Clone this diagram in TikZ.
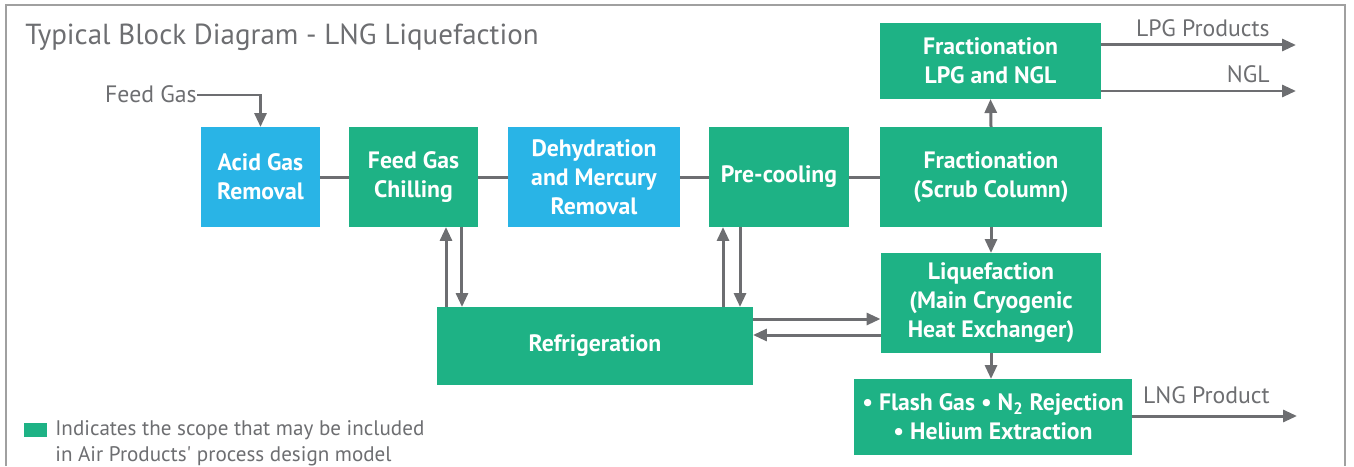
\documentclass[tikz,border=0pt]{standalone}
\usepackage{fontspec}
\setmainfont{PT Sans}
\usetikzlibrary{arrows.meta}
\definecolor{verde}{RGB}{30,178,133}
\definecolor{azul}{RGB}{41,180,230}
\definecolor{gris}{RGB}{109,110,113}
\definecolor{marco}{RGB}{160,160,160}
\begin{document}
\begin{tikzpicture}[x=0.02cm, y=-0.02cm,
    caja/.style={rectangle, inner sep=0pt, outer sep=0pt, align=center, text=white,
        font=\bfseries\fontsize{13.5}{16.5}\selectfont},
    cajaverde/.style={caja, fill=verde},
    cajaazul/.style={caja, fill=azul},
    rotulo/.style={text=gris, inner sep=0pt, font=\fontsize{13.5}{15}\selectfont},
    linea/.style={draw=gris, line width=0.06cm},
    flecha/.style={linea, -{Triangle[length=0.28cm, width=0.24cm]}}]
    \useasboundingbox (0,0) rectangle (1354,466);
    % Marco y titulo
    \draw[marco, line width=0.04cm] (6,466) -- (6,5) -- (1345,5) -- (1345,466);
    \node[rotulo, anchor=base west, font=\fontsize{16.5}{20}\selectfont] (titulo) at (25,45) {Typical Block Diagram - LNG Liquefaction};
    % Fila superior
    \node[cajaazul, minimum width=2.38cm, minimum height=2cm] (acido) at (260.5,177) {Acid Gas\\Removal};
    \node[cajaverde, minimum width=2.58cm, minimum height=2cm] (enfriado) at (413.5,177) {Feed Gas\\Chilling};
    \node[cajaazul, minimum width=3.44cm, minimum height=2cm] (deshidra) at (594,177) {Dehydration\\and Mercury\\Removal};
    \node[cajaverde, minimum width=2.8cm, minimum height=2cm] (preenfr) at (779,177) {Pre-cooling};
    \node[cajaverde, minimum width=4.44cm, minimum height=2cm] (lavado) at (991,177) {Fractionation\\(Scrub Column)};
    \node[cajaverde, minimum width=4.42cm, minimum height=1.52cm] (fracc) at (990.5,61) {Fractionation\\LPG and NGL};
    % Fila inferior
    \node[cajaverde, minimum width=6.32cm, minimum height=1.56cm] (refrig) at (595,346) {Refrigeration};
    \node[cajaverde, minimum width=4.42cm, minimum height=2cm] (licuef) at (991,303) {Liquefaction\\(Main Cryogenic\\Heat Exchanger)};
    \node[cajaverde, minimum width=5.56cm, minimum height=1.52cm] (flash) at (993,417) {• Flash Gas • N\textsubscript{2} Rejection\\• Helium Extraction};
    % Entradas y salidas
    \node[rotulo, anchor=base east] (gasentra) at (197,102) {Feed Gas};
    \node[rotulo, anchor=base east] (lpg) at (1270,37) {LPG Products};
    \node[rotulo, anchor=base east] (ngl) at (1270,83) {NGL};
    \node[rotulo, anchor=base east] (lng) at (1270,403) {LNG Product};
    \coordinate (lpgfin) at (1296,45);
    \coordinate (nglfin) at (1296,91);
    \coordinate (lngfin) at (1297,416);
    \draw[flecha] (gasentra.east |- 0,95) -| (acido.north);
    \draw[flecha] (fracc.east |- lpgfin) -- (lpgfin);
    \draw[flecha] (fracc.east |- nglfin) -- (nglfin);
    \draw[flecha] (flash.east |- lngfin) -- (lngfin);
    % Conexiones
    \draw[linea] (acido.east) -- (enfriado.west);
    \draw[linea] (enfriado.east) -- (deshidra.west);
    \draw[linea] (deshidra.east) -- (preenfr.west);
    \draw[linea] (preenfr.east) -- (lavado.west);
    \draw[flecha] (lavado.north) -- (fracc.south);
    \draw[flecha] (lavado.south) -- (licuef.north);
    \draw[flecha] (licuef.south) -- (licuef.south |- flash.north);
    \draw[flecha] ([xshift=0.65cm]enfriado.south |- refrig.north) -- ([xshift=0.65cm]enfriado.south);
    \draw[flecha] ([xshift=0.97cm]enfriado.south) -- ([xshift=0.97cm]enfriado.south |- refrig.north);
    \draw[flecha] ([xshift=-1.12cm]preenfr.south |- refrig.north) -- ([xshift=-1.12cm]preenfr.south);
    \draw[flecha] ([xshift=-0.78cm]preenfr.south) -- ([xshift=-0.78cm]preenfr.south |- refrig.north);
    \draw[flecha] ([yshift=0.54cm]refrig.east) -- ([yshift=0.54cm]refrig.east -| licuef.west);
    \draw[flecha] ([yshift=0.22cm]refrig.east -| licuef.west) -- ([yshift=0.22cm]refrig.east);
    % Leyenda
    \fill[verde] (24,423) rectangle (47,437);
    \node[rotulo, anchor=base west, align=left, font=\fontsize{12}{14.5}\selectfont] (leyenda) at (55,461) {Indicates the scope that may be included\\in Air Products\textquotesingle\ process design model};
\end{tikzpicture}
\end{document}
